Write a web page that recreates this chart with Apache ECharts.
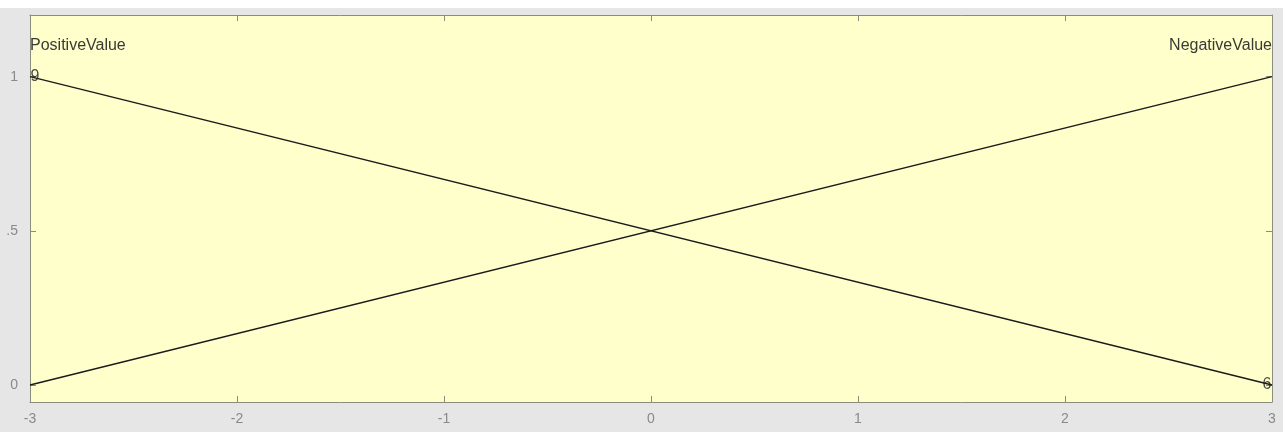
<!DOCTYPE html>
<html>
<head>
<meta charset="utf-8">
<script src="https://cdn.jsdelivr.net/npm/echarts@6/dist/echarts.min.js"></script>
<style>
  html, body { margin: 0; padding: 0; background: #e6e6e6; }
  #chart { width: 1283px; height: 432px; }
</style>
</head>
<body>
<div id="chart"></div>
<script>
// membership functions over input range
const xRange = [-3, 3]
const xTicks = [-3, -2, -1, 0, 1, 2, 3]
const yTicks = [0, 0.5, 1]
const positiveValue = [[-3, 1], [3, 0]]
const negativeValue = [[-3, 0], [3, 1]]
const mfNames = ['PositiveValue', 'NegativeValue']
// small end markers drawn by the tool
const endMarks = [[-3, 1, '9'], [3, 0, '6']]

const chart = echarts.init(document.getElementById('chart'))

const axisColor = '#8c8c7c'
const labelFont = { color: '#8a8a8a', fontSize: 14, fontFamily: 'Liberation Sans' }
const nameFont = { color: '#3a3a34', fontSize: 16, fontFamily: 'Liberation Sans' }

chart.setOption({
  animation: false,
  backgroundColor: '#e6e6e6',
  graphic: [{
    type: 'rect',
    left: 0,
    top: 0,
    shape: { width: 1283, height: 8 },
    style: { fill: '#ffffff' },
    z: -1
  }],
  grid: {
    left: 30,
    right: 11,
    top: 15,
    bottom: 30,
    show: true,
    backgroundColor: '#ffffcc',
    borderWidth: 0
  },
  xAxis: [{
    type: 'value',
    min: xRange[0],
    max: xRange[1],
    interval: 1,
    position: 'bottom',
    axisLine: { show: true, onZero: false, lineStyle: { color: axisColor, width: 1 } },
    axisTick: { show: true, inside: true, length: 6, lineStyle: { color: axisColor } },
    axisLabel: Object.assign({ margin: 10, formatter: v => xTicks.includes(v) ? String(v) : '' }, labelFont),
    splitLine: { show: false }
  }, {
    type: 'value',
    min: xRange[0],
    max: xRange[1],
    interval: 1,
    position: 'top',
    axisLine: { show: true, onZero: false, lineStyle: { color: axisColor, width: 1 } },
    axisTick: { show: true, inside: true, length: 6, lineStyle: { color: axisColor } },
    axisLabel: { show: false },
    splitLine: { show: false }
  }],
  yAxis: [{
    type: 'value',
    min: -0.055,
    max: 1.2,
    position: 'left',
    axisLine: { show: true, onZero: false, lineStyle: { color: axisColor, width: 1 } },
    axisTick: { show: true, inside: true, length: 6, customValues: yTicks, lineStyle: { color: axisColor } },
    axisLabel: Object.assign({
      margin: 12,
      customValues: yTicks,
      formatter: v => v === 0.5 ? '.5' : String(v)
    }, labelFont),
    splitLine: { show: false }
  }, {
    type: 'value',
    min: -0.055,
    max: 1.2,
    position: 'right',
    axisLine: { show: true, onZero: false, lineStyle: { color: axisColor, width: 1 } },
    axisTick: { show: true, inside: true, length: 6, customValues: yTicks, lineStyle: { color: axisColor } },
    axisLabel: { show: false },
    splitLine: { show: false }
  }],
  series: [{
    name: mfNames[0],
    type: 'line',
    data: [
      {
        value: positiveValue[0],
        label: Object.assign({ show: true, formatter: mfNames[0], position: [0, -39], align: 'left' }, nameFont)
      },
      positiveValue[1]
    ],
    showSymbol: true,
    symbol: 'circle',
    symbolSize: 0,
    lineStyle: { color: '#1a1a1a', width: 1.4 },
    itemStyle: { color: '#1a1a1a' },
    label: { show: false }
  }, {
    name: mfNames[1],
    type: 'line',
    data: [
      negativeValue[0],
      {
        value: negativeValue[1],
        label: Object.assign({ show: true, formatter: mfNames[1], position: [0, -39], align: 'right' }, nameFont)
      }
    ],
    showSymbol: true,
    symbol: 'circle',
    symbolSize: 0,
    lineStyle: { color: '#1a1a1a', width: 1.4 },
    itemStyle: { color: '#1a1a1a' },
    label: { show: false }
  }, {
    type: 'scatter',
    data: endMarks.map(m => ({ value: [m[0], m[1]], name: m[2] })),
    symbolSize: 0,
    label: {
      show: true,
      position: 'inside',
      formatter: p => p.name,
      color: '#222',
      fontSize: 16,
      fontFamily: 'Liberation Sans'
    },
    labelLayout: p => ({ dx: p.dataIndex === 0 ? 5 : -5 }),
    z: 5
  }]
})
</script>
</body>
</html>
